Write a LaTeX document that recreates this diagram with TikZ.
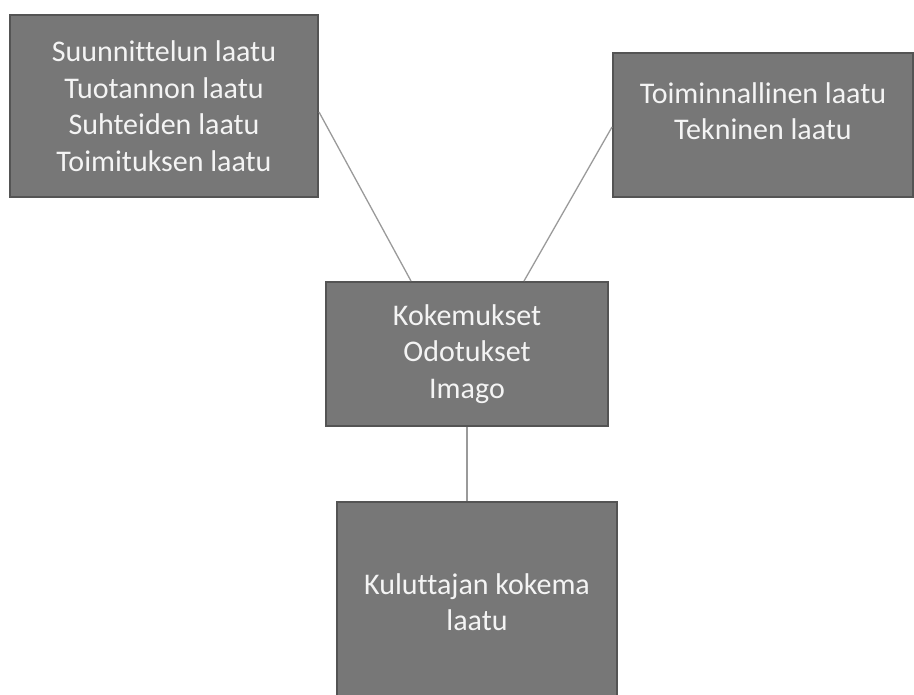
\documentclass[tikz,border=0pt]{standalone}
\usepackage{fontspec}
\setmainfont[Ligatures={NoCommon}]{Carlito}
\usetikzlibrary{calc}
\definecolor{boxfill}{HTML}{777777}
\definecolor{boxedge}{HTML}{545454}
\definecolor{linkgray}{HTML}{9A9A9A}
\definecolor{boxtext}{HTML}{F4F4F4}
\begin{document}
\begin{tikzpicture}[x=1pt,y=-1pt,
  qbox/.style={draw=boxedge, line width=2pt, fill=boxfill, text=boxtext,
    align=center, inner sep=0pt,
    font=\fontsize{30}{36.5}\selectfont},
  link/.style={draw=linkgray, line width=1.3pt}]
  \useasboundingbox (0,0) rectangle (914,695);

  \node[qbox, minimum width=308pt, minimum height=182pt] (b1) at (164,106)
    {Suunnittelun laatu\\Tuotannon laatu\\Suhteiden laatu\\Toimituksen laatu};
  \node[qbox, minimum width=300pt, minimum height=144pt, text depth=28pt] (b2) at (763,125)
    {Toiminnallinen laatu\\Tekninen laatu};
  \node[qbox, minimum width=282pt, minimum height=144pt] (b3) at (467,354)
    {Kokemukset\\Odotukset\\Imago};
  \node[qbox, minimum width=280pt, minimum height=210pt, text depth=10pt] (b4) at (477,607)
    {Kuluttajan kokema\\laatu};

  \draw[link] ([yshift=-6pt]b1.east) -- ([xshift=-56pt]b3.north);
  \draw[link] ([yshift=-2pt]b2.west) -- ([xshift=57pt]b3.north);
  \draw[link] (b3.south) -- (b3.south |- b4.north);
\end{tikzpicture}
\end{document}
